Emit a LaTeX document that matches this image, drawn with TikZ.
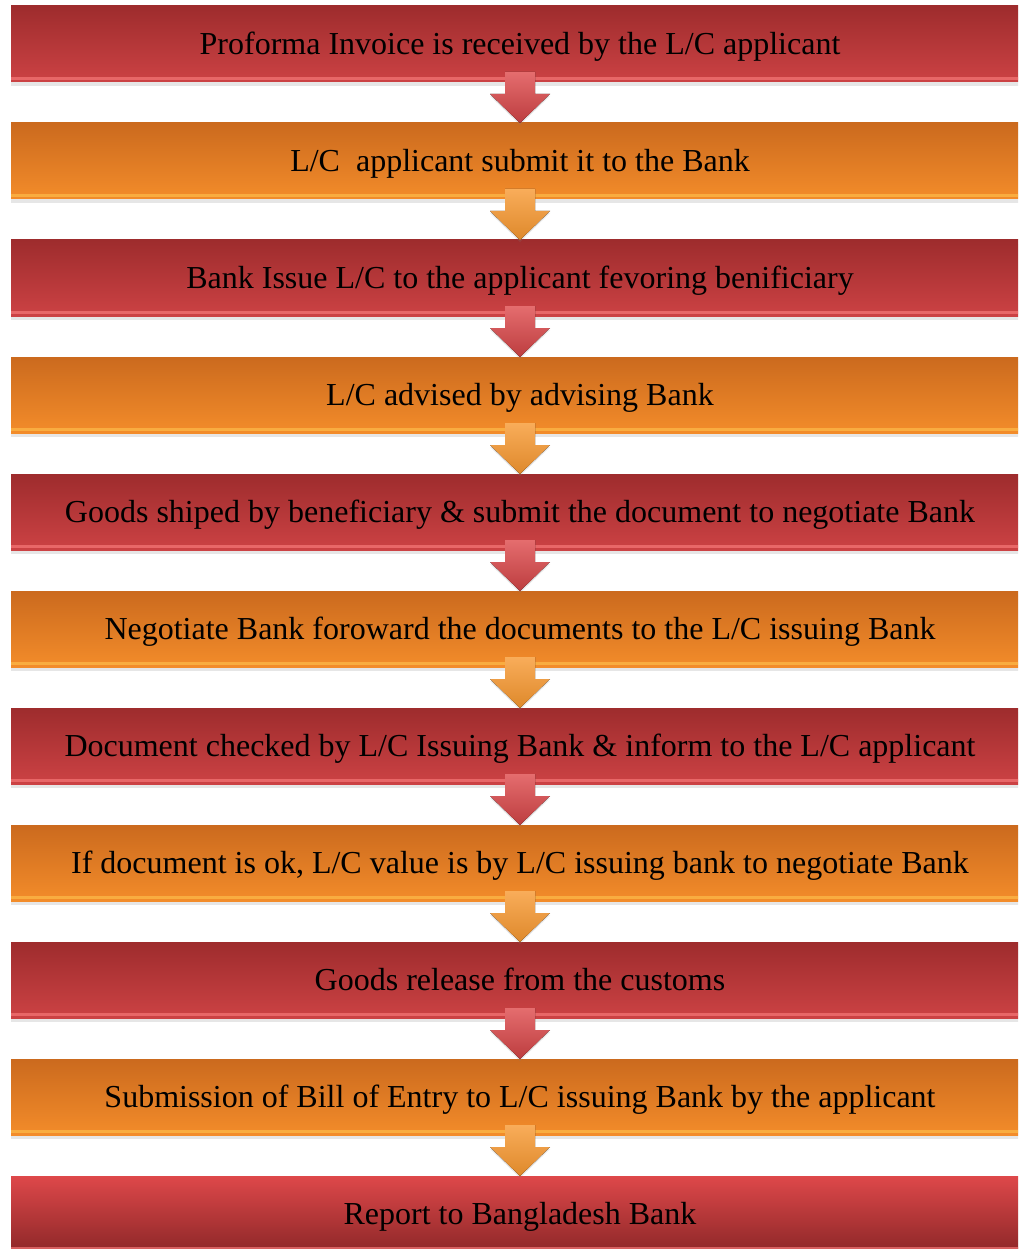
\documentclass[tikz,border=0pt]{standalone}
\usepackage{fontspec}
\setmainfont{Liberation Serif}
\usetikzlibrary{positioning,calc,shadows}

\definecolor{redtop}{RGB}{158,44,45}
\definecolor{redbot}{RGB}{204,66,68}
\definecolor{redlite}{RGB}{246,120,120}
\definecolor{orgtop}{RGB}{203,106,30}
\definecolor{orgbot}{RGB}{243,140,42}
\definecolor{orglite}{RGB}{255,196,80}
\definecolor{arred}{RGB}{222,72,74}
\definecolor{arorg}{RGB}{247,152,48}

\tikzset{
  stepred/.style={rectangle, minimum width=1018pt, minimum height=76pt, inner sep=0pt, outer sep=0pt,
    top color=redtop, bottom color=redbot, drop shadow={opacity=0.2, shadow xshift=0pt, shadow yshift=-4pt},
    path picture={\fill[redlite, opacity=0.7] ([yshift=2pt]path picture bounding box.south west) rectangle ([yshift=5pt]path picture bounding box.south east);},
    font=\fontsize{32}{38}\selectfont, text depth=2pt},
  steporange/.style={stepred, top color=orgtop, bottom color=orgbot,
    path picture={\fill[orglite, opacity=0.6] ([yshift=2pt]path picture bounding box.south west) rectangle ([yshift=5pt]path picture bounding box.south east);}},
  steplast/.style={stepred, top color=arred, bottom color=redtop!90!black},
  arrowred/.style={top color=arred!80!white, bottom color=arred!85!black, drop shadow={opacity=0.2, shadow xshift=0pt, shadow yshift=-2pt}},
  arroworange/.style={top color=arorg!80!white, bottom color=arorg!90!black, drop shadow={opacity=0.2, shadow xshift=0pt, shadow yshift=-2pt}}
}

% block arrow from bottom of one step to top of the next
\newcommand{\flowarrow}[3]{%
  \fill[#1] ($(#2.south)+(-15,-10)$) -- ($(#2.south)+(15,-10)$) -- ($(#2.south)+(15,12)$)
    -- ($(#2.south)+(30,12)$) -- (#3.north) -- ($(#2.south)+(-30,12)$) -- ($(#2.south)+(-15,12)$) -- cycle;}

\begin{document}
\begin{tikzpicture}[x=1pt,y=-1pt]
\useasboundingbox (0,0) rectangle (1018,1249);
\begin{scope}
\clip (0,0) rectangle (1018,1249);

% Steps
\node[stepred] (invoice) at (520,44) {Proforma Invoice is received by the L/C applicant};
\node[steporange, below=41pt of invoice] (submit) {L/C\ \ applicant submit it to the Bank};
\node[stepred, below=41pt of submit] (issue) {Bank Issue L/C to the applicant fevoring benificiary};
\node[steporange, below=41pt of issue] (advised) {L/C advised by advising Bank};
\node[stepred, below=41pt of advised] (shipped) {Goods shiped by beneficiary \& submit the document to negotiate Bank};
\node[steporange, below=41pt of shipped] (forward) {Negotiate Bank foroward the documents to the L/C issuing Bank};
\node[stepred, below=41pt of forward] (checked) {Document checked by L/C Issuing Bank \& inform to the L/C applicant};
\node[steporange, below=41pt of checked] (payment) {If document is ok, L/C value is by L/C issuing bank to negotiate Bank};
\node[stepred, below=41pt of payment] (release) {Goods release from the customs};
\node[steporange, below=41pt of release] (entry) {Submission of Bill of Entry to L/C issuing Bank by the applicant};
\node[steplast, below=41pt of entry] (report) {Report to Bangladesh Bank};

% Arrows
\flowarrow{arrowred}{invoice}{submit}
\flowarrow{arroworange}{submit}{issue}
\flowarrow{arrowred}{issue}{advised}
\flowarrow{arroworange}{advised}{shipped}
\flowarrow{arrowred}{shipped}{forward}
\flowarrow{arroworange}{forward}{checked}
\flowarrow{arrowred}{checked}{payment}
\flowarrow{arroworange}{payment}{release}
\flowarrow{arrowred}{release}{entry}
\flowarrow{arroworange}{entry}{report}
\end{scope}
\end{tikzpicture}
\end{document}
